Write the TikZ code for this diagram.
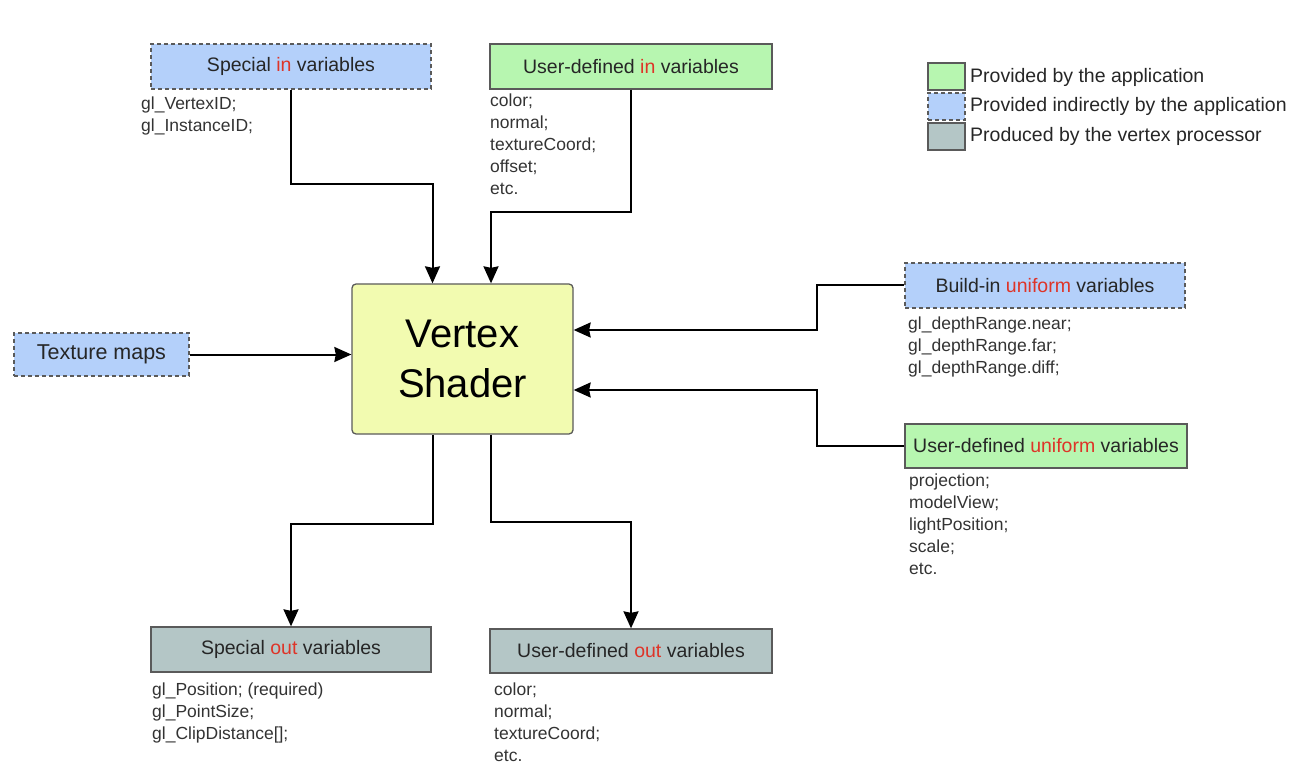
\documentclass[tikz,border=0pt]{standalone}
\usepackage{fontspec}
\setmainfont{Liberation Sans}
\usetikzlibrary{arrows.meta}
\definecolor{inblu}{RGB}{180,208,250}
\definecolor{usrgrn}{RGB}{183,246,176}
\definecolor{outgry}{RGB}{180,198,198}
\definecolor{shdylw}{RGB}{242,251,176}
\definecolor{kwred}{RGB}{222,52,40}
\definecolor{edge}{RGB}{90,90,90}
\newcommand{\kw}[1]{\textcolor{kwred}{#1}}

\begin{document}
\begin{tikzpicture}[x=1pt,y=-1pt,
  box/.style={draw=edge,line width=1.3pt,minimum width=280pt,minimum height=45pt,inner sep=0pt,
    font=\fontsize{19.5}{23}\selectfont,text=black!85},
  appbox/.style={box,fill=usrgrn},
  indbox/.style={box,fill=inblu,dash pattern=on 4pt off 3pt},
  outbox/.style={box,fill=outgry},
  varlist/.style={anchor=north west,align=left,inner sep=0pt,font=\fontsize{17.5}{22}\selectfont,text=black!80},
  swatch/.style={draw=edge,line width=1.8pt,minimum width=37pt,minimum height=27pt,inner sep=0pt},
  legtext/.style={anchor=west,inner sep=0pt,font=\fontsize{19.5}{23}\selectfont,text=black!85},
  flow/.style={line width=2pt,-{Stealth[length=17pt,width=15pt,inset=1.5pt]}}]
\useasboundingbox (0,0) rectangle (1310,778);

% shader in the middle
\node[draw=edge,line width=1.3pt,fill=shdylw,rounded corners=4pt,minimum width=221pt,minimum height=150pt,
  align=center,font=\fontsize{40}{50}\selectfont] (shader) at (462.5,359) {Vertex\\Shader};

% inputs
\node[indbox] (spin) at (291,66.5) {Special \kw{in} variables};
\node[varlist] (spinl) at (141,96.5) {gl\_VertexID;\\gl\_InstanceID;};
\node[appbox,minimum width=282pt] (usrin) at (631,66.5) {User-defined \kw{in} variables};
\node[varlist] (usrinl) at (490,94) {color;\\normal;\\textureCoord;\\offset;\\etc.};
\node[indbox,minimum width=175pt,minimum height=43pt,font=\fontsize{21.5}{25}\selectfont] (texmap) at (101.5,354.5) {Texture maps};
\node[indbox] (bltin) at (1045,285.5) {Build-in \kw{uniform} variables};
\node[varlist] (bltinl) at (908,317) {gl\_depthRange.near;\\gl\_depthRange.far;\\gl\_depthRange.diff;};
\node[appbox,minimum width=282pt,minimum height=44pt] (usrun) at (1046,446) {User-defined \kw{uniform} variables};
\node[varlist] (usrunl) at (909,474) {projection;\\modelView;\\lightPosition;\\scale;\\etc.};

% outputs
\node[outbox] (spout) at (291,649.5) {Special \kw{out} variables};
\node[varlist] (spoutl) at (152,683) {gl\_Position; (required)\\gl\_PointSize;\\gl\_ClipDistance[];};
\node[outbox,minimum width=282pt,minimum height=44pt] (usrout) at (631,651) {User-defined \kw{out} variables};
\node[varlist] (usroutl) at (494,683) {color;\\normal;\\textureCoord;\\etc.};

% legend
\node[swatch,fill=usrgrn] (lg1) at (946.5,76.5) {};
\node[swatch,fill=inblu,line width=1.3pt,dash pattern=on 4pt off 3pt] (lg2) at (946.5,106.5) {};
\node[swatch,fill=outgry] (lg3) at (946.5,136.5) {};
\node[legtext] (lt1) at (970,77) {Provided by the application};
\node[legtext] (lt2) at (970,106) {Provided indirectly by the application};
\node[legtext] (lt3) at (970,136) {Produced by the vertex processor};

% connectors
\draw[flow] (spin.south) -- ++(0,94) -| ([xshift=-30pt]shader.north);
\draw[flow] (usrin.south) -- ++(0,122) -| ([xshift=28.5pt]shader.north);
\draw[flow] (texmap.east) -- (texmap.east -| shader.west);
\draw[flow] (bltin.west) -- ++(-87,0) |- ([yshift=29pt]shader.east);
\draw[flow] (usrun.west) -- ++(-87,0) |- ([yshift=-31pt]shader.east);
\draw[flow] ([xshift=-30pt]shader.south) -- ++(0,89) -| (spout.north);
\draw[flow] ([xshift=28.5pt]shader.south) -- ++(0,87) -| (usrout.north);
\end{tikzpicture}
\end{document}
